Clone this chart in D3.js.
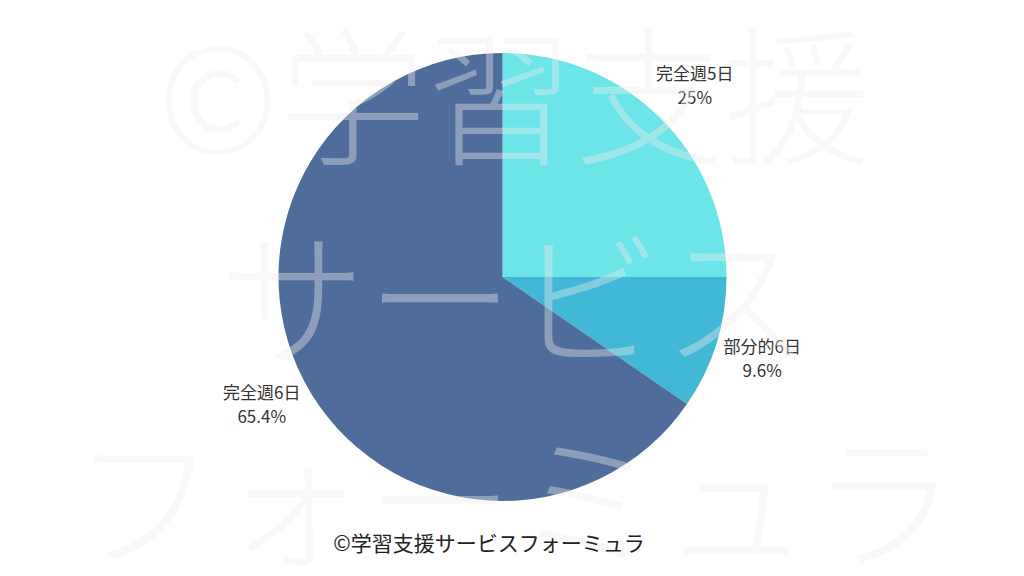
<!DOCTYPE html>
<html><head><meta charset="utf-8">
<script src="https://cdn.jsdelivr.net/npm/d3@7"></script>
<style>html,body{margin:0;padding:0;background:#fff;}svg{display:block;font-family:"Noto Sans CJK JP","Noto Sans",sans-serif;}</style>
</head><body>
<svg id="chart" width="1024" height="576"></svg>
<script>
const categories = ["完全週5日", "部分的6日", "完全週6日"];
const values = [25, 9.6, 65.4];
const valueLabels = ["25%", "9.6%", "65.4%"];
const colors = ["#6ce5e8", "#41b8d5", "#4f6d9a"];
const watermarkLines = ["©学習支援", "サービス", "フォーミュラ"];
const caption = "©学習支援サービスフォーミュラ";

const svg = d3.select("#chart");
const cx = 502.5, cy = 277, r = 224;
const data = categories.map((c, i) => ({name: c, value: values[i], label: valueLabels[i], color: colors[i]}));
const pie = d3.pie().value(d => d.value).sort(null);
const arc = d3.arc().innerRadius(0).outerRadius(r);
const labelArc = d3.arc().innerRadius(272).outerRadius(272);
const arcs = pie(data);

const g = svg.append("g").attr("transform", `translate(${cx},${cy})`);
g.selectAll("path").data(arcs).join("path")
  .attr("d", arc).attr("fill", d => d.data.color);

// watermark
const wm = svg.append("g").attr("fill", "#ededed").attr("fill-opacity", 0.39)
  .attr("font-size", 148).attr("font-weight", 300).attr("text-anchor", "middle");
const wmY = d3.scalePoint().domain(watermarkLines).range([88, 492]);
wm.selectAll("text").data(watermarkLines).join("text")
  .attr("x", 514).attr("y", d => wmY(d)).attr("dominant-baseline", "central").text(d => d);

// labels
const lg = g.append("g").attr("font-size", 17).attr("fill", "#333").attr("text-anchor", "middle");
arcs.forEach(a => {
  const [x, y] = labelArc.centroid(a);
  const t = lg.append("text").attr("x", x).attr("y", y);
  t.append("tspan").attr("x", x).attr("dy", "-0.28em").text(a.data.name);
  t.append("tspan").attr("x", x).attr("dy", "1.4em").text(a.data.label);
});

svg.append("text").attr("x", 489).attr("y", 551).attr("text-anchor", "middle")
  .attr("font-size", 21).attr("fill", "#222").text(caption);
</script>
</body></html>
